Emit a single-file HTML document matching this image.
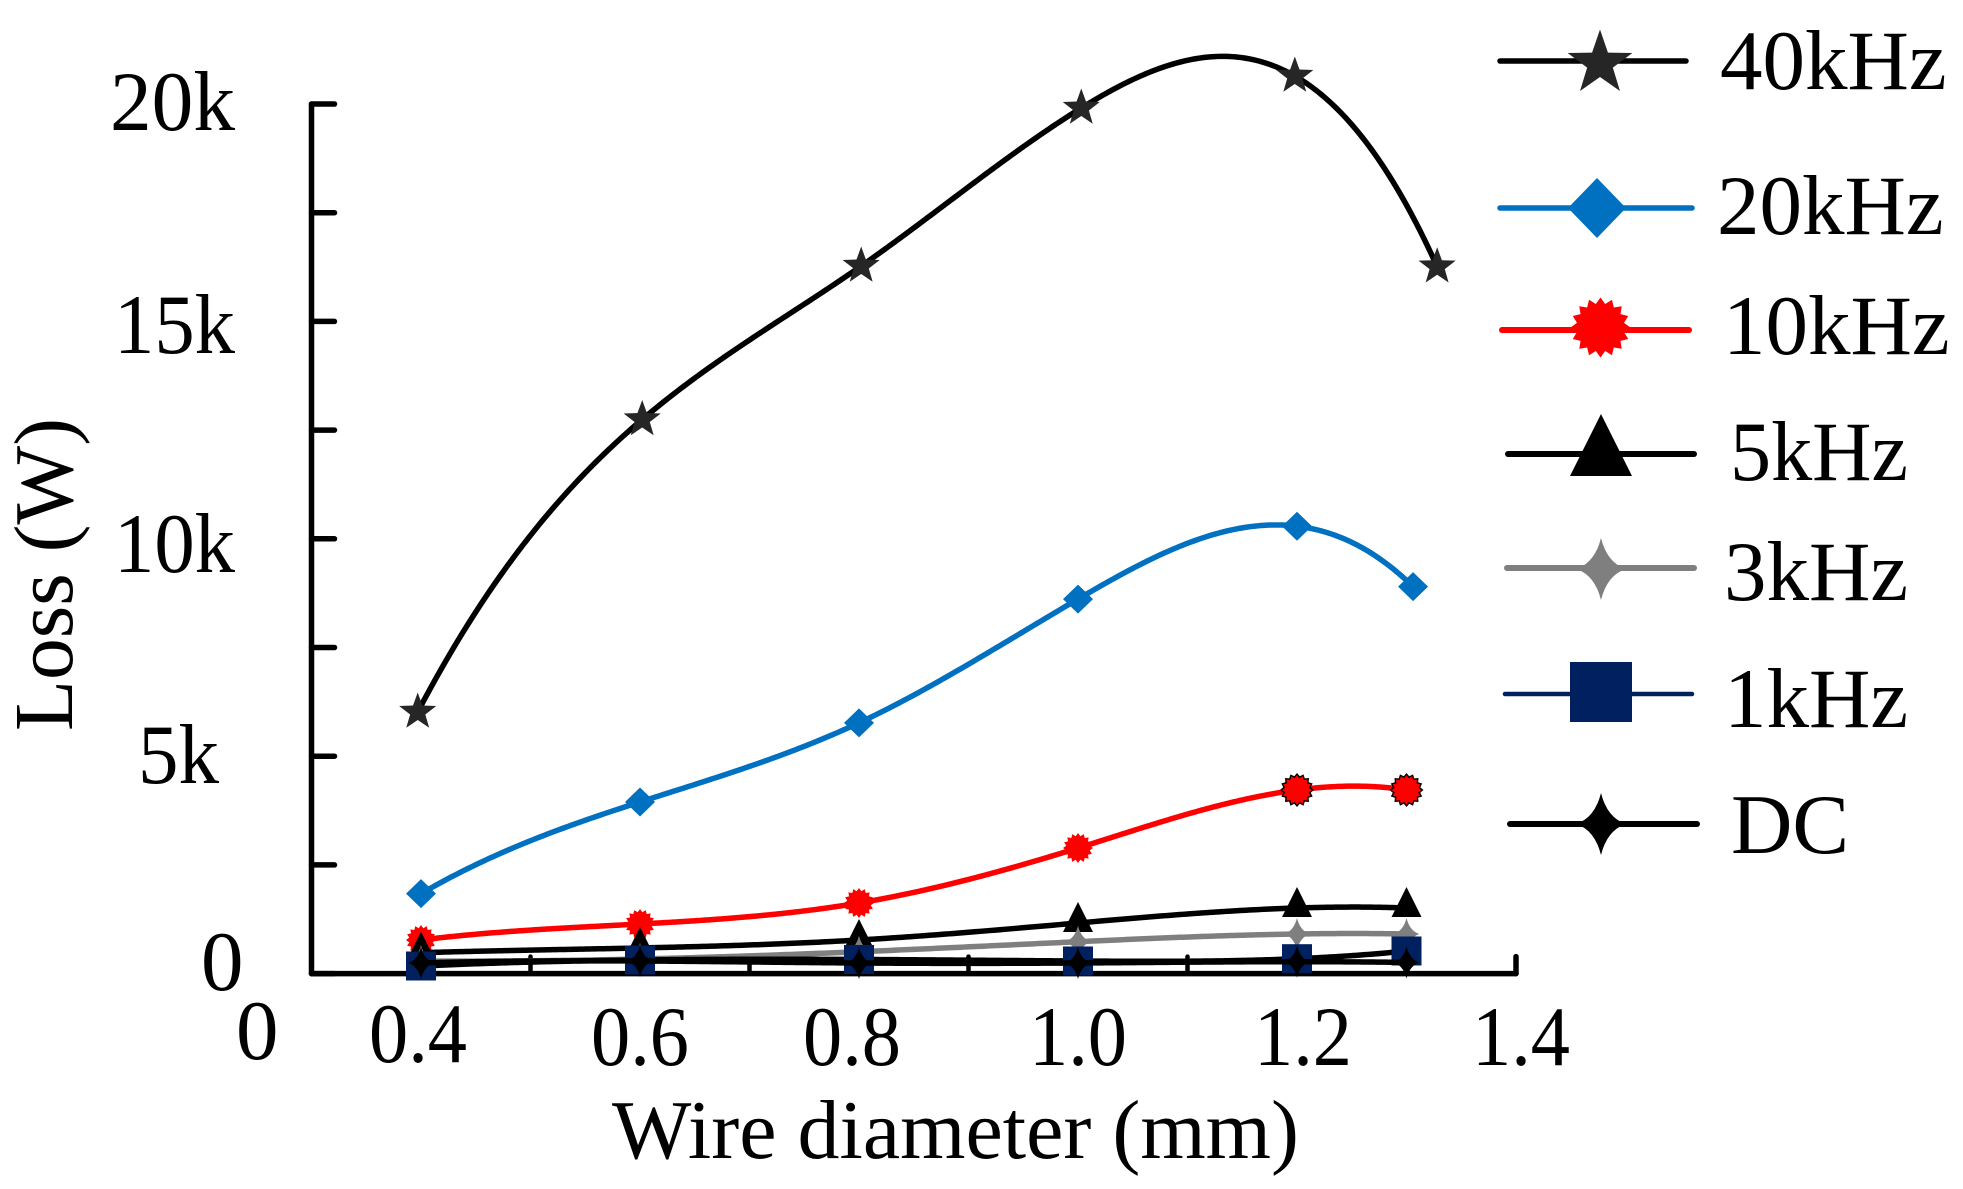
<!DOCTYPE html>
<html lang="en">
<head>
<meta charset="utf-8">
<title>Loss vs wire diameter</title>
<style>
html,body{margin:0;padding:0;background:#fff;}
svg{display:block;}
text{font-family:"Liberation Serif",serif;fill:#000;font-size:85px;}
</style>
</head>
<body>
<svg id="chart" xmlns="http://www.w3.org/2000/svg" width="1963" height="1189" viewBox="0 0 1963 1189">
  <rect x="0" y="0" width="1963" height="1189" fill="#fff"/>
  <g id="axes"></g>
  <g id="series"></g>

  <g>
    <text x="235" y="130" text-anchor="end" textLength="125" lengthAdjust="spacingAndGlyphs">20k</text>
    <text x="235" y="353" text-anchor="end" textLength="121" lengthAdjust="spacingAndGlyphs">15k</text>
    <text x="235" y="572" text-anchor="end" textLength="121" lengthAdjust="spacingAndGlyphs">10k</text>
    <text x="219" y="783" text-anchor="end" textLength="81" lengthAdjust="spacingAndGlyphs">5k</text>
    <text x="201" y="990">0</text>
  </g>
  <g>
    <text x="236" y="1059">0</text>
    <text x="418" y="1062" text-anchor="middle" textLength="98" lengthAdjust="spacingAndGlyphs">0.4</text>
    <text x="640" y="1065" text-anchor="middle" textLength="98" lengthAdjust="spacingAndGlyphs">0.6</text>
    <text x="852" y="1065" text-anchor="middle" textLength="98" lengthAdjust="spacingAndGlyphs">0.8</text>
    <text x="1078" y="1065" text-anchor="middle" textLength="98" lengthAdjust="spacingAndGlyphs">1.0</text>
    <text x="1303" y="1065" text-anchor="middle" textLength="98" lengthAdjust="spacingAndGlyphs">1.2</text>
    <text x="1521" y="1065" text-anchor="middle" textLength="98" lengthAdjust="spacingAndGlyphs">1.4</text>
  </g>
  <text x="612" y="1158" style="font-size:84px">Wire diameter (mm)</text>
  <text transform="translate(72,731) rotate(-90)" x="0" y="0" style="font-size:83.5px">Loss (W)</text>

  <g id="legend">
    <g>
      <line x1="1500" y1="61" x2="1686" y2="61" stroke="#000" stroke-width="5.5" stroke-linecap="round"/>
      <path id="lm40" fill="#262626"/>
      <text x="1720" y="89">40kHz</text>
    </g>
    <g>
      <line x1="1500" y1="208" x2="1692" y2="208" stroke="#0070c0" stroke-width="5.5" stroke-linecap="round"/>
      <path d="M1597,178L1626,208L1597,238L1568,208Z" fill="#0070c0"/>
      <text x="1717" y="234">20kHz</text>
    </g>
    <g>
      <line x1="1502" y1="330" x2="1689" y2="330" stroke="#f00" stroke-width="6" stroke-linecap="round"/>
      <path id="lm10" fill="#f00"/>
      <text x="1723" y="354">10kHz</text>
    </g>
    <g>
      <line x1="1508" y1="454" x2="1694" y2="454" stroke="#000" stroke-width="6" stroke-linecap="round"/>
      <path d="M1601,414L1632,476L1570,476Z" fill="#000"/>
      <text x="1730" y="480" textLength="178" lengthAdjust="spacingAndGlyphs">5kHz</text>
    </g>
    <g>
      <line x1="1507" y1="568" x2="1694" y2="568" stroke="#7f7f7f" stroke-width="6" stroke-linecap="round"/>
      <path id="lm3" fill="#7f7f7f"/>
      <text x="1724" y="600">3kHz</text>
    </g>
    <g>
      <line x1="1505" y1="694" x2="1692" y2="694" stroke="#002060" stroke-width="4.5" stroke-linecap="round"/>
      <rect x="1570" y="662" width="62" height="60" fill="#002060"/>
      <text x="1724" y="727">1kHz</text>
    </g>
    <g>
      <line x1="1510" y1="824" x2="1697" y2="824" stroke="#000" stroke-width="6" stroke-linecap="round"/>
      <path id="lmdc" fill="#000"/>
      <text x="1731" y="853">DC</text>
    </g>
  </g>
</svg>
<script>
/* Chart data (wire diameter in mm, loss in W) */
const yTickValues = [0, 2500, 5000, 7500, 10000, 12500, 15000, 17500, 20000];
const xTickValues = [0.5, 0.7, 0.9, 1.1, 1.4];
const diameters = [0.4, 0.6, 0.8, 1.0, 1.2, 1.3];
const diameters40k = [0.397, 0.602, 0.802, 1.003, 1.198, 1.328];
const diameters20k = [0.4, 0.6, 0.8, 1.0, 1.2, 1.306];
const loss40k = [6016, 12744, 16274, 19908, 20644, 16258];
const loss20k = [1838, 3947, 5767, 8614, 10290, 8900];
const loss10k = [773, 1141, 1624, 2888, 4222, 4222];
const loss5k = [481, 590, 773, 1164, 1509, 1509];
const loss3k = [290, 336, 503, 733, 911, 911];
const loss1k = [175, 313, 325, 290, 343, 520];
const lossDC = [244, 290, 244, 244, 274, 256];

const NS = 'http://www.w3.org/2000/svg';
const xScale = v => 421 + (v - 0.4) * 1095;
const yScale = v => 973.6 - v * 0.04348;

function el(name, attrs, parent) {
  const n = document.createElementNS(NS, name);
  for (const k in attrs) n.setAttribute(k, attrs[k]);
  parent.appendChild(n);
  return n;
}

function starPath(cx, cy, R, r, n, rot) {
  let d = '';
  for (let i = 0; i < 2 * n; i++) {
    const a = rot + i * Math.PI / n;
    const q = i % 2 ? r : R;
    d += (i ? 'L' : 'M') + (cx + q * Math.sin(a)).toFixed(2) + ',' + (cy - q * Math.cos(a)).toFixed(2);
  }
  return d + 'Z';
}
function fourPoint(cx, cy, r) {
  const h = 0.8 * r, c = 0.2 * r;
  return 'M' + cx + ',' + (cy - r) +
    'Q' + (cx + c) + ',' + (cy - c) + ' ' + (cx + h) + ',' + cy +
    'Q' + (cx + c) + ',' + (cy + c) + ' ' + cx + ',' + (cy + r) +
    'Q' + (cx - c) + ',' + (cy + c) + ' ' + (cx - h) + ',' + cy +
    'Q' + (cx - c) + ',' + (cy - c) + ' ' + cx + ',' + (cy - r) + 'Z';
}

/* Not-a-knot cubic spline through the data, sampled along x in pixel space */
function solve(A, b) {
  const n = b.length;
  for (let i = 0; i < n; i++) {
    let p = i;
    for (let r = i + 1; r < n; r++) if (Math.abs(A[r][i]) > Math.abs(A[p][i])) p = r;
    [A[i], A[p]] = [A[p], A[i]];
    [b[i], b[p]] = [b[p], b[i]];
    for (let r = i + 1; r < n; r++) {
      const m = A[r][i] / A[i][i];
      for (let c = i; c < n; c++) A[r][c] -= m * A[i][c];
      b[r] -= m * b[i];
    }
  }
  const x = new Array(n).fill(0);
  for (let i = n - 1; i >= 0; i--) {
    let s = b[i];
    for (let c = i + 1; c < n; c++) s -= A[i][c] * x[c];
    x[i] = s / A[i][i];
  }
  return x;
}
function splinePath(px, py) {
  const n = px.length, h = [];
  for (let i = 0; i < n - 1; i++) h.push(px[i + 1] - px[i]);
  const A = [], b = [];
  for (let i = 0; i < n; i++) { A.push(new Array(n).fill(0)); b.push(0); }
  A[0][0] = h[1]; A[0][1] = -(h[0] + h[1]); A[0][2] = h[0];
  A[n - 1][n - 3] = h[n - 2]; A[n - 1][n - 2] = -(h[n - 3] + h[n - 2]); A[n - 1][n - 1] = h[n - 3];
  for (let i = 1; i < n - 1; i++) {
    A[i][i - 1] = h[i - 1];
    A[i][i] = 2 * (h[i - 1] + h[i]);
    A[i][i + 1] = h[i];
    b[i] = 6 * ((py[i + 1] - py[i]) / h[i] - (py[i] - py[i - 1]) / h[i - 1]);
  }
  const M = solve(A, b);
  let path = 'M' + px[0].toFixed(2) + ',' + py[0].toFixed(2);
  for (let i = 0; i < n - 1; i++) {
    const steps = Math.max(4, Math.ceil(h[i] / 3));
    for (let s = 1; s <= steps; s++) {
      const t = s / steps, P = 1 - t, Q = t;
      const y = P * py[i] + Q * py[i + 1] + ((P * P * P - P) * M[i] + (Q * Q * Q - Q) * M[i + 1]) * h[i] * h[i] / 6;
      path += 'L' + (px[i] + t * h[i]).toFixed(2) + ',' + y.toFixed(2);
    }
  }
  return path;
}

/* Axes */
const axes = document.getElementById('axes');
const axisStyle = {stroke: '#000', 'stroke-width': 5.5, 'stroke-linecap': 'round', fill: 'none'};
const yAxisLine = el('line', Object.assign({x1: xScale(0.3), x2: xScale(0.3), y1: yScale(20000), y2: yScale(0)}, axisStyle), axes);


const xAxisLine = el('line', Object.assign({x1: xScale(0.3), x2: xScale(1.4), y1: yScale(0), y2: yScale(0)}, axisStyle), axes);


yTickValues.forEach(v => {
  const t = el('line', Object.assign({x1: xScale(0.3), x2: xScale(0.3) + 23, y1: yScale(v), y2: yScale(v)}, axisStyle), axes);
  
  
});
xTickValues.forEach(v => {
  const t = el('line', {x1: xScale(v), x2: xScale(v), y1: yScale(0), y2: yScale(0) - 17, stroke: '#000', 'stroke-width': v === 1.4 ? 5.5 : 4.5, 'stroke-linecap': 'round'}, axes);
  
  
});

/* Marker shapes */
const markers = {
  star: (x, y) => ({tag: 'path', a: {d: starPath(x, y, 19.5, 8, 5, 0)}}),
  diamond: (x, y) => ({tag: 'path', a: {d: 'M' + x + ',' + (y - 14.5) + 'L' + (x + 15) + ',' + y + 'L' + x + ',' + (y + 14.5) + 'L' + (x - 15) + ',' + y + 'Z'}}),
  burst: (x, y) => ({tag: 'path', a: {d: starPath(x, y, 15, 12, 16, 0)}}),
  triangle: (x, y) => ({tag: 'path', a: {d: 'M' + x + ',' + (y - 21) + 'L' + (x + 15) + ',' + (y + 9) + 'L' + (x - 15) + ',' + (y + 9) + 'Z'}}),
  four: (x, y) => ({tag: 'path', a: {d: fourPoint(x, y, 16)}}),
  square: (x, y) => ({tag: 'rect', a: {x: x - 15, y: y - 14.5, width: 30, height: 29}})
};

const seriesList = [
  {key: '40khz', xs: diameters40k, ys: loss40k, line: '#000', fill: '#262626', w: 5.5, m: 'star'},
  {key: '20khz', xs: diameters20k, ys: loss20k, line: '#0070c0', fill: '#0070c0', w: 5.5, m: 'diamond'},
  {key: '10khz', xs: diameters, ys: loss10k, line: '#f00', fill: '#f00', w: 5.5, m: 'burst', outline: [4, 5]},
  {key: '5khz', xs: diameters, ys: loss5k, line: '#000', fill: '#000', w: 5.5, m: 'triangle'},
  {key: '3khz', xs: diameters, ys: loss3k, line: '#7f7f7f', fill: '#7f7f7f', w: 5.5, m: 'four'},
  {key: '1khz', xs: diameters, ys: loss1k, line: '#000', fill: '#002060', w: 5.5, m: 'square'},
  {key: 'dc', xs: diameters, ys: lossDC, line: '#000', fill: '#000', w: 5.5, m: 'four'}
];

const seriesRoot = document.getElementById('series');
seriesList.forEach(s => {
  const g = el('g', {}, seriesRoot);
  
  
  const px = s.xs.map(xScale), py = s.ys.map(yScale);
  const line = el('path', {d: splinePath(px, py), fill: 'none', stroke: s.line, 'stroke-width': s.w}, g);
  
  
  px.forEach((x, i) => {
    if (s.outline && s.outline.includes(i)) {
      const halo = el('path', {d: starPath(x, py[i], 17, 14, 16, 0), fill: '#000'}, g);
      
      
    }
    const mk = markers[s.m](x, py[i]);
    const node = el(mk.tag, Object.assign({fill: s.fill}, mk.a), g);
    
    
  });
});

/* Legend marker geometry */
document.getElementById('lm40').setAttribute('d', starPath(1600, 63.5, 34, 13.5, 5, 0));
document.getElementById('lm10').setAttribute('d', starPath(1600.5, 327.5, 30, 24, 16, 0));
document.getElementById('lm3').setAttribute('d', fourPoint(1601, 569, 31));
document.getElementById('lmdc').setAttribute('d', fourPoint(1601, 824, 31));
</script>
</body>
</html>
